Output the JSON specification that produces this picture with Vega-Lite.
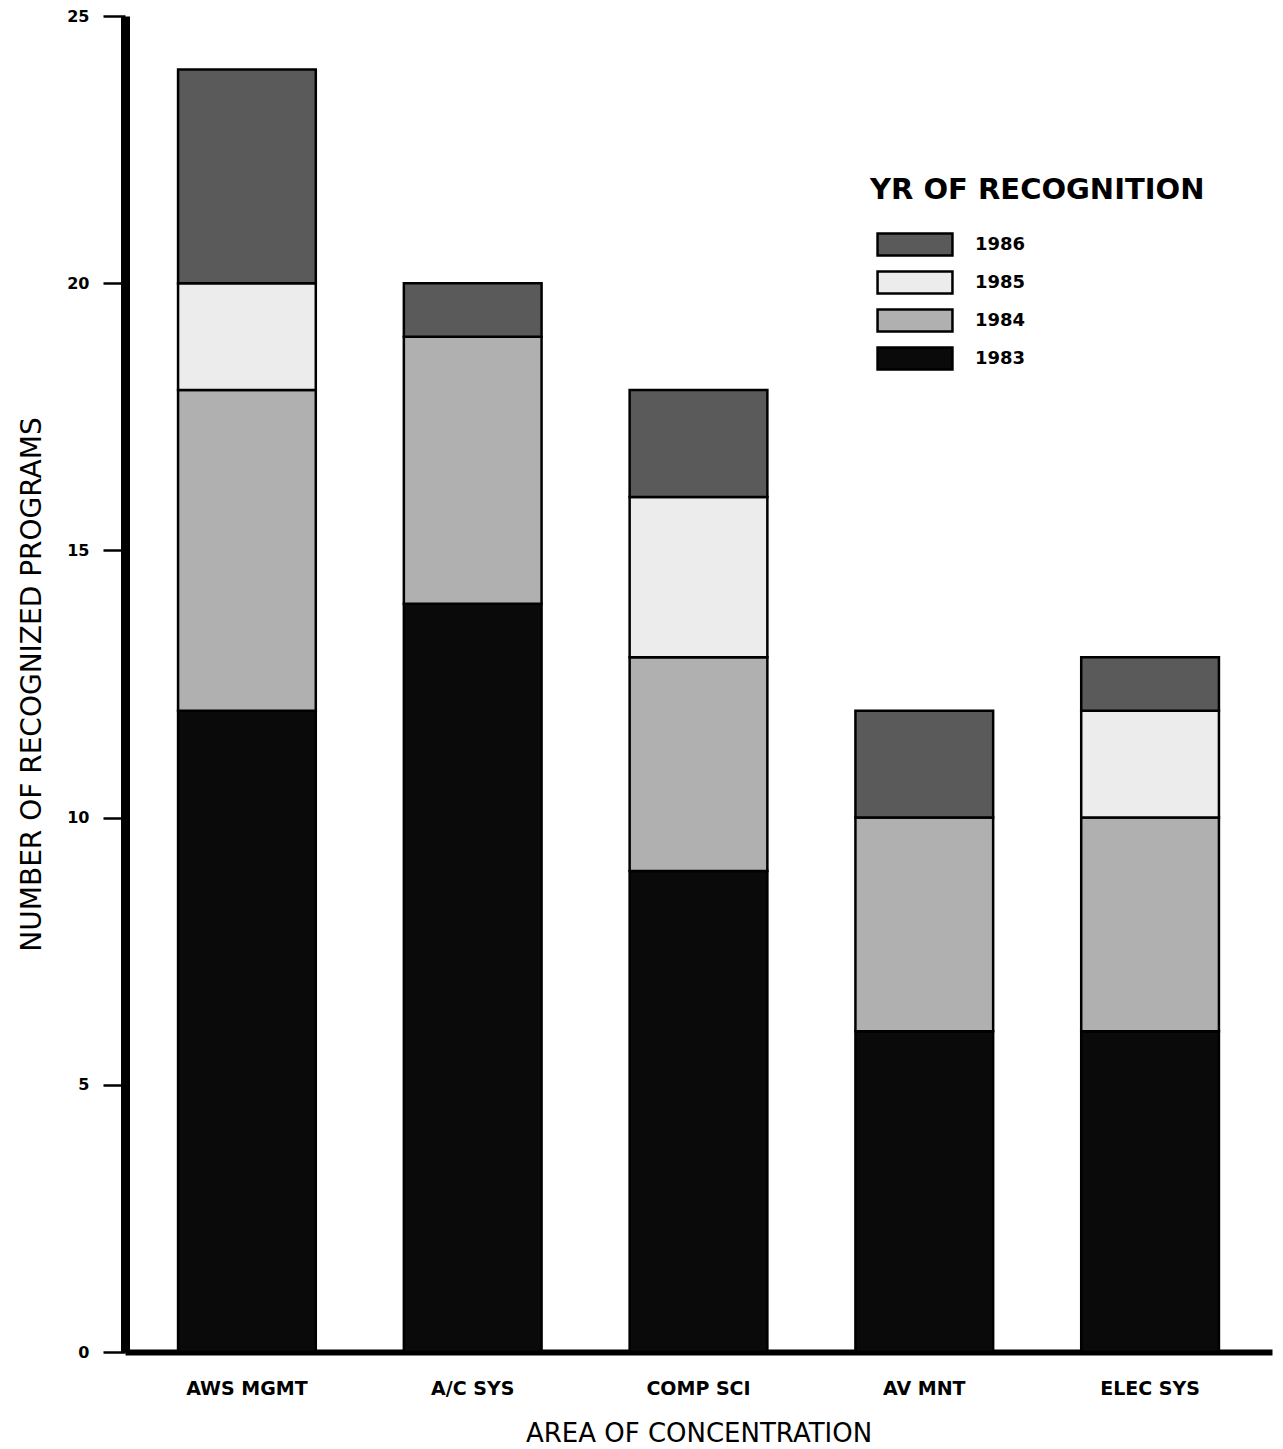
{
  "$schema": "https://vega.github.io/schema/vega-lite/v6.json",
  "autosize": {"type": "none"},
  "width": 1147,
  "height": 1336,
  "padding": {"left": 125, "top": 16, "right": 11, "bottom": 97},
  "background": "white",
  "data": {
    "values": [
      {"area": "AWS MGMT", "year": "1983", "count": 12},
      {"area": "AWS MGMT", "year": "1984", "count": 6},
      {"area": "AWS MGMT", "year": "1985", "count": 2},
      {"area": "AWS MGMT", "year": "1986", "count": 4},
      {"area": "A/C SYS", "year": "1983", "count": 14},
      {"area": "A/C SYS", "year": "1984", "count": 5},
      {"area": "A/C SYS", "year": "1986", "count": 1},
      {"area": "COMP SCI", "year": "1983", "count": 9},
      {"area": "COMP SCI", "year": "1984", "count": 4},
      {"area": "COMP SCI", "year": "1985", "count": 3},
      {"area": "COMP SCI", "year": "1986", "count": 2},
      {"area": "AV MNT", "year": "1983", "count": 6},
      {"area": "AV MNT", "year": "1984", "count": 4},
      {"area": "AV MNT", "year": "1986", "count": 2},
      {"area": "ELEC SYS", "year": "1983", "count": 6},
      {"area": "ELEC SYS", "year": "1984", "count": 4},
      {"area": "ELEC SYS", "year": "1985", "count": 2},
      {"area": "ELEC SYS", "year": "1986", "count": 1}
    ]
  },
  "mark": {"type": "bar", "stroke": "black", "strokeWidth": 2.5},
  "encoding": {
    "x": {
      "field": "area",
      "type": "nominal",
      "sort": ["AWS MGMT", "A/C SYS", "COMP SCI", "AV MNT", "ELEC SYS"],
      "scale": {"paddingInner": 0.39, "paddingOuter": 0.235},
      "axis": {
        "title": "AREA OF CONCENTRATION",
        "labelAngle": 0,
        "ticks": false,
        "domainWidth": 6,
        "domainColor": "black",
        "labelFont": "DejaVu Sans",
        "labelFontWeight": "bold",
        "labelFontSize": 19,
        "labelColor": "black",
        "labelPadding": 27,
        "titleFont": "DejaVu Sans",
        "titleFontWeight": "normal",
        "titleFontSize": 26,
        "titleColor": "black",
        "titlePadding": 22
      }
    },
    "y": {
      "field": "count",
      "type": "quantitative",
      "stack": "zero",
      "scale": {"domain": [0, 25], "nice": false},
      "axis": {
        "title": "NUMBER OF RECOGNIZED PROGRAMS",
        "values": [0, 5, 10, 15, 20, 25],
        "grid": false,
        "domainWidth": 9,
        "domainColor": "black",
        "tickSize": 22,
        "tickWidth": 2.5,
        "tickColor": "black",
        "labelFont": "DejaVu Sans",
        "labelFontWeight": "bold",
        "labelFontSize": 16,
        "labelColor": "black",
        "labelPadding": 14,
        "titleFont": "DejaVu Sans",
        "titleFontWeight": "normal",
        "titleFontSize": 28,
        "titleColor": "black",
        "titlePadding": 20
      }
    },
    "color": {
      "field": "year",
      "type": "nominal",
      "scale": {
        "domain": ["1986", "1985", "1984", "1983"],
        "range": ["#5a5a5a", "#ececec", "#b0b0b0", "#0a0a0a"]
      },
      "legend": {
        "title": "YR OF RECOGNITION",
        "orient": "none",
        "legendX": 745,
        "legendY": 160,
        "titleFont": "DejaVu Sans",
        "titleFontWeight": "bold",
        "titleFontSize": 29,
        "titleLimit": 600,
        "titleColor": "black",
        "titlePadding": 27,
        "symbolType": "M-0.45,-1H6.36V1H-0.45Z",
        "symbolSize": 484,
        "symbolStrokeColor": "black",
        "symbolStrokeWidth": 2.5,
        "symbolOpacity": 1,
        "labelFont": "DejaVu Sans",
        "labelFontWeight": "bold",
        "labelFontSize": 18,
        "labelColor": "black",
        "labelOffset": 80,
        "rowPadding": 5
      }
    },
    "order": {"field": "year", "type": "ordinal", "sort": "ascending"}
  },
  "config": {"view": {"stroke": null}}
}
